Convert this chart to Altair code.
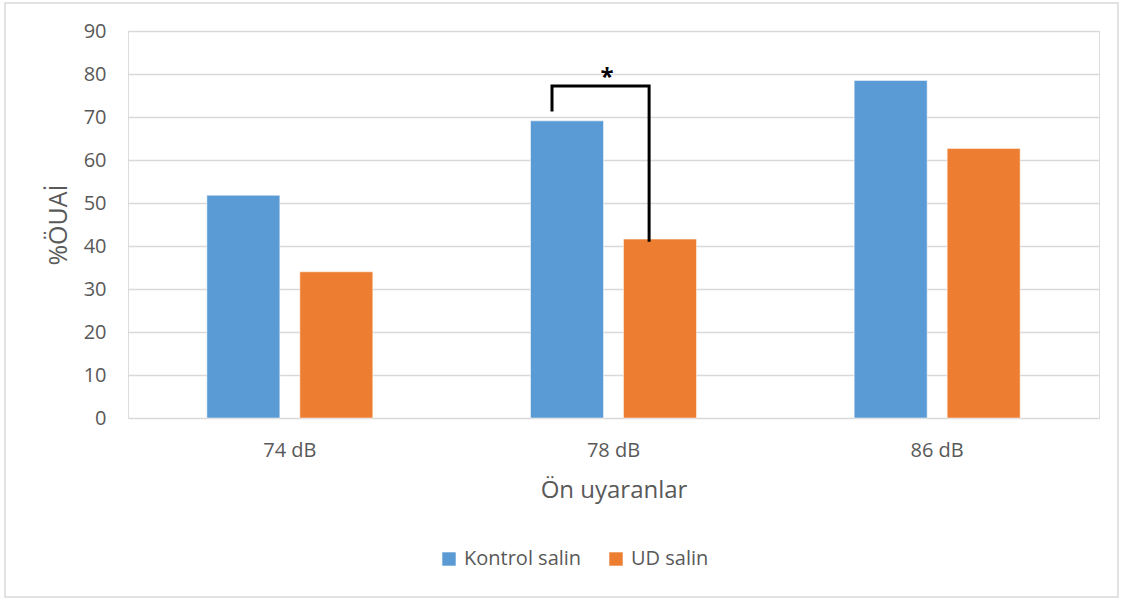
import altair as alt
import pandas as pd

categories = ["74 dB", "78 dB", "86 dB"]
groups = ["Kontrol salin", "UD salin"]
kontrol = [51.8, 69.1, 78.5]
ud = [34.0, 41.6, 62.7]

# significance bracket (x in category units 0..3, y in %)
bracket_x = [1.31, 1.31, 1.61, 1.61]
bracket_y = [71.3, 77.2, 77.2, 41.0]
star_x = [1.48]
star_y = [79.0]

FONT = "Open Sans"
GRAY = "#595959"

rows = []
for c, k, u in zip(categories, kontrol, ud):
    rows.append({"cat": c, "group": groups[0], "value": k})
    rows.append({"cat": c, "group": groups[1], "value": u})
df = pd.DataFrame(rows)

yscale = alt.Scale(domain=[0, 90])

bars = alt.Chart(df).mark_bar(stroke="white", strokeWidth=0.5).encode(
    x=alt.X("cat:N", sort=categories,
            scale=alt.Scale(paddingInner=0, paddingOuter=0),
            axis=alt.Axis(title="Ön uyaranlar", labelAngle=0, ticks=False, domain=False,
                          labelPadding=22, titlePadding=18, labelFontSize=20,
                          titleFontSize=24, labelColor=GRAY, titleColor=GRAY,
                          labelFont=FONT, titleFont=FONT, titleFontWeight="normal")),
    xOffset=alt.XOffset("group:N", sort=groups,
                        scale=alt.Scale(paddingInner=0.215, paddingOuter=0.848)),
    y=alt.Y("value:Q", scale=yscale,
            axis=alt.Axis(title="%ÖUAİ", values=list(range(0, 91, 10)), ticks=False,
                          domain=False, grid=True, gridColor="#d9d9d9", gridWidth=1.5,
                          labelPadding=22, titlePadding=12, labelFontSize=20,
                          titleFontSize=25, labelColor=GRAY, titleColor=GRAY,
                          labelFont=FONT, titleFont=FONT, titleFontWeight="normal")),
    color=alt.Color("group:N", sort=groups,
                    scale=alt.Scale(domain=groups, range=["#5B9BD5", "#ED7D31"]),
                    legend=alt.Legend(title=None, orient="none", direction="horizontal",
                                      legendX=311, legendY=518, symbolType="square",
                                      symbolSize=180, symbolStrokeWidth=0,
                                      labelFontSize=20, labelColor=GRAY, labelFont=FONT,
                                      columnPadding=24, labelOffset=5)),
)

bdf = pd.DataFrame({"bx": bracket_x, "by": bracket_y, "o": list(range(len(bracket_x)))})
xq = alt.Scale(domain=[0, 3])
bracket = alt.Chart(bdf).mark_line(color="black", strokeWidth=3, strokeJoin="miter",
                                   strokeCap="butt").encode(
    x=alt.X("bx:Q", scale=xq, axis=None),
    y=alt.Y("by:Q", scale=yscale),
    order="o:Q",
)

sdf = pd.DataFrame({"sx": star_x, "sy": star_y, "t": ["*"]})
star = alt.Chart(sdf).mark_text(fontSize=24, fontWeight="bold", font=FONT, color="black",
                                baseline="middle").encode(
    x=alt.X("sx:Q", scale=xq, axis=None),
    y=alt.Y("sy:Q", scale=yscale),
    text="t:N",
)

border = alt.Chart(pd.DataFrame({"a": [0]})).mark_rect(
    filled=False, stroke="#d9d9d9", strokeWidth=1.5, fill=None).encode(
    x=alt.value(-123), x2=alt.value(990), y=alt.value(-28), y2=alt.value(566)
)

chart = alt.layer(border, bars, bracket, star).resolve_scale(x="independent").properties(
    width=971, height=387,
    autosize=alt.AutoSizeParams(type="none"),
    padding={"left": 128, "top": 31, "right": 31, "bottom": 184},
).configure_view(stroke=None).configure(background="white")

chart.save("out.html", embed_options={"renderer": "svg", "actions": False})
